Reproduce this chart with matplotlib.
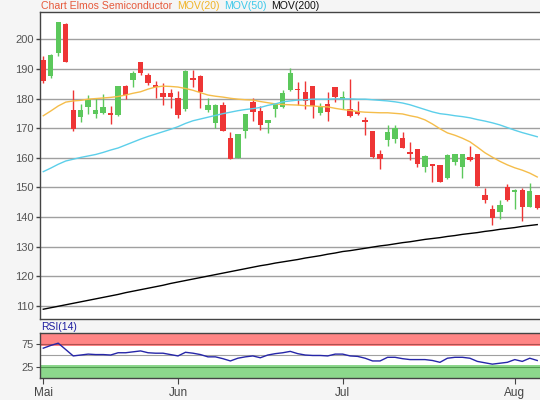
import matplotlib
matplotlib.use("Agg")
import matplotlib.pyplot as plt
import numpy as np

# daily candles, Elmos Semiconductor
opens = [193.0, 187.7, 195.5, 205.2, 176.1, 173.9, 177.2, 174.8, 175.0, 175.2,
         174.3, 184.2, 186.3, 192.2, 187.9, 184.6, 182.0, 182.0, 180.1, 176.6,
         187.0, 187.6, 176.1, 171.6, 177.8, 166.6, 160.0, 169.2, 178.9, 175.8,
         171.8, 176.4, 177.0, 182.9, 183.4, 182.1, 184.2, 175.2, 178.0, 183.8,
         179.7, 176.4, 175.8, 172.7, 169.1, 161.1, 166.0, 166.2, 166.6, 161.8,
         162.8, 157.0, 157.8, 157.5, 153.0, 158.4, 157.0, 160.2, 161.1, 147.3,
         142.6, 141.8, 150.1, 148.4, 149.1, 143.4, 147.4]
highs = [194.4, 194.9, 205.9, 205.6, 182.9, 178.1, 181.2, 180.1, 181.4, 177.6,
         184.3, 184.6, 189.3, 192.4, 188.7, 185.8, 185.2, 183.4, 182.5, 189.5,
         189.6, 187.8, 180.1, 178.2, 179.0, 168.6, 168.1, 174.8, 180.1, 177.5,
         172.9, 178.3, 182.9, 190.2, 185.6, 185.8, 184.3, 178.6, 182.3, 183.9,
         182.5, 186.6, 179.2, 173.9, 169.2, 162.6, 171.0, 171.0, 168.6, 165.2,
         163.0, 160.9, 158.0, 157.7, 161.1, 161.2, 161.2, 163.9, 161.2, 149.9,
         144.0, 145.7, 151.2, 149.3, 149.8, 151.6, 147.5]
lows = [185.3, 186.8, 194.5, 192.4, 169.1, 172.2, 174.7, 173.5, 174.7, 171.3,
        174.2, 179.7, 184.0, 187.8, 184.6, 180.1, 177.8, 176.8, 173.4, 175.7,
        184.0, 176.7, 175.3, 170.1, 169.0, 159.6, 160.0, 166.6, 172.4, 169.5,
        168.5, 173.9, 176.8, 182.7, 177.8, 176.4, 173.6, 174.4, 172.3, 178.7,
        176.4, 173.9, 174.6, 167.7, 160.0, 156.1, 164.1, 164.9, 163.3, 159.2,
        157.0, 155.3, 151.8, 151.8, 152.9, 157.5, 153.0, 159.0, 150.4, 144.8,
        137.3, 139.2, 145.5, 142.8, 138.6, 143.3, 142.8]
closes = [186.0, 194.7, 205.8, 192.4, 169.6, 176.1, 179.7, 176.1, 177.2, 174.6,
          184.2, 181.2, 188.6, 188.8, 185.1, 183.9, 180.4, 180.4, 174.5, 189.3,
          186.3, 182.3, 177.8, 177.8, 169.1, 159.7, 168.0, 174.7, 175.3, 171.0,
          172.7, 178.0, 181.8, 188.5, 182.8, 179.3, 177.6, 177.0, 175.5, 180.4,
          180.4, 174.2, 174.7, 172.2, 160.1, 159.6, 168.8, 169.9, 163.4, 161.3,
          158.0, 160.7, 157.2, 151.9, 161.0, 161.1, 161.1, 159.2, 150.5, 145.7,
          139.6, 144.0, 145.7, 149.1, 143.2, 148.7, 142.9]

mov20 = [174.2, 175.8, 177.5, 178.8, 179.2, 179.4, 179.8, 180.0, 180.2, 180.4,
         180.7, 181.2, 181.8, 182.3, 183.2, 183.9, 184.2, 184.1, 183.9, 183.4,
         182.8, 182.0, 181.2, 180.8, 180.5, 180.1, 179.8, 179.6, 179.5, 179.0,
         178.6, 178.2, 178.0, 177.9, 177.8, 177.6, 177.5, 177.3, 177.2, 176.7,
         176.3, 176.0, 175.6, 175.4, 175.3, 175.2, 175.2, 175.0, 174.8, 174.2,
         173.7, 172.8, 171.4, 169.8, 168.4, 167.6, 166.6, 165.4, 163.6, 161.7,
         160.2, 158.8, 157.6, 156.6, 155.8, 154.8, 153.5]
mov50 = [155.3, 156.5, 157.8, 158.9, 159.5, 160.1, 160.6, 161.1, 161.8, 162.6,
         163.3, 164.3, 165.3, 166.3, 167.2, 168.0, 168.8, 169.6, 170.5, 171.6,
         172.5, 173.1, 173.7, 174.3, 174.9, 175.4, 175.9, 176.3, 176.6, 177.0,
         177.7, 178.2, 178.9, 179.2, 179.5, 179.6, 179.8, 179.8, 179.8, 179.9,
         179.9, 179.9, 179.8, 179.8, 179.6, 179.4, 179.2, 178.9, 178.5, 177.9,
         177.1, 176.3, 175.5, 174.9, 174.6, 174.2, 173.9, 173.5, 172.9, 172.4,
         171.8, 171.1, 170.2, 169.3, 168.5, 167.8, 167.1]
mov200 = [108.8, 109.3, 109.8, 110.3, 110.8, 111.3, 111.8, 112.3, 112.8, 113.3,
          113.8, 114.4, 114.9, 115.4, 115.9, 116.4, 116.9, 117.5, 118.0, 118.5,
          119.0, 119.5, 120.0, 120.5, 121.0, 121.5, 122.0, 122.5, 123.0, 123.5,
          123.9, 124.4, 124.8, 125.2, 125.6, 126.1, 126.5, 126.9, 127.4, 127.8,
          128.3, 128.6, 129.0, 129.4, 129.8, 130.2, 130.5, 130.9, 131.3, 131.6,
          132.0, 132.4, 132.7, 133.0, 133.4, 133.7, 134.1, 134.4, 134.7, 135.1,
          135.4, 135.8, 136.1, 136.4, 136.8, 137.1, 137.4]
rsi14 = [66, 72, 77, 63, 49, 51, 53, 52, 52, 51,
         56, 56, 58, 60, 56, 55, 55, 52, 49, 57,
         55, 52, 47, 47, 43, 38, 44, 47, 49, 45,
         51, 54, 56, 59, 54, 51, 50, 50, 49, 53,
         53, 49, 48, 44, 38, 38, 46, 46, 43, 41,
         41, 41, 39, 35, 44, 46, 46, 44, 37, 34,
         31, 33, 35, 41, 37, 44, 39]

month_labels = ["Mai", "Jun", "Jul", "Aug"]
month_starts = [0, 18, 40, 63]

UP = "#5cc85c"
DOWN = "#ee3535"
GRID = "#a0a0a0"
TXT = "#555555"

plt.rcParams["font.family"] = ["Liberation Sans", "DejaVu Sans"]

fig = plt.figure(figsize=(5.4, 4.0), dpi=100, facecolor="#f5f5f5")
ax = fig.add_axes([0.0746, 0.2018, 0.93, 0.767])
ax_rsi = fig.add_axes([0.0746, 0.0543, 0.93, 0.114], sharex=ax)

x = np.arange(len(closes))
o = np.array(opens)
c = np.array(closes)
up = c >= o
colors = np.where(up, UP, DOWN)

# grid first
for lvl in range(110, 201, 10):
    ax.axhline(lvl, color=GRID, lw=1, zorder=0)

# candles
ax.vlines(x, lows, highs, colors=colors, lw=1, zorder=2)
body_lo = np.minimum(o, c)
body_h = np.maximum(np.abs(c - o), 0.35)
ax.bar(x, body_h, bottom=body_lo, width=0.72, color=colors, lw=0, zorder=3)

# moving averages
ax.plot(x, mov20, color="#f5bd4a", lw=1, zorder=4)
ax.plot(x, mov50, color="#5ccfea", lw=1, zorder=4)
ax.plot(x, mov200, color="black", lw=1, zorder=4)

ax.set_xlim(-0.4, 66.7)
ax.set_ylim(105.4, 209.1)
ax.set_yticks(range(110, 201, 10))
ax.tick_params(axis="y", length=3, width=1, color="#444444", labelsize=8,
               labelcolor=TXT, pad=1.5)
ax.tick_params(axis="x", bottom=False, labelbottom=False)
for sp in ax.spines.values():
    sp.set_color("#444444")
    sp.set_linewidth(1)

# RSI panel
ax_rsi.axhspan(70, 100, color="#ff8585", lw=0, zorder=0)
ax_rsi.axhspan(0, 30, color="#8cd88c", lw=0, zorder=0)
ax_rsi.axhline(75, color="#b05050", lw=0.8, zorder=1)
ax_rsi.axhline(50, color=GRID, lw=0.8, zorder=1)
ax_rsi.axhline(25, color="#4f9a4f", lw=0.8, zorder=1)
ax_rsi.plot(x, rsi14, color="#2626a8", lw=1, zorder=3)
ax_rsi.set_ylim(0, 100)
ax_rsi.set_yticks([25, 75])
ax_rsi.set_xticks(month_starts)
ax_rsi.set_xticklabels(month_labels)
ax_rsi.tick_params(axis="y", length=3, color="#444444", labelsize=8,
                   labelcolor=TXT, pad=1.5)
ax_rsi.tick_params(axis="x", length=4, color="#444444", labelsize=8.5,
                   labelcolor="#444444", pad=2)
ax_rsi.set_facecolor("white")
for sp in ax_rsi.spines.values():
    sp.set_color("#444444")
    sp.set_linewidth(1)

fig.text(41 / 540, 1 - 327 / 400, "RSI(14)", color="#1c1ca0", fontsize=7.5,
         va="center", ha="left")

# legend line above the chart
legend_parts = [("Chart Elmos Semiconductor", "#e65a3c", 41),
                ("MOV(20)", "#f0b428", 177),
                ("MOV(50)", "#3cc8ea", 224),
                ("MOV(200)", "#111111", 271)]
for label, col, px in legend_parts:
    fig.text(px / 540, 1 - 6 / 400, label, color=col, fontsize=7.6,
             va="center", ha="left")

fig.savefig("out.png", dpi=100, facecolor=fig.get_facecolor())
